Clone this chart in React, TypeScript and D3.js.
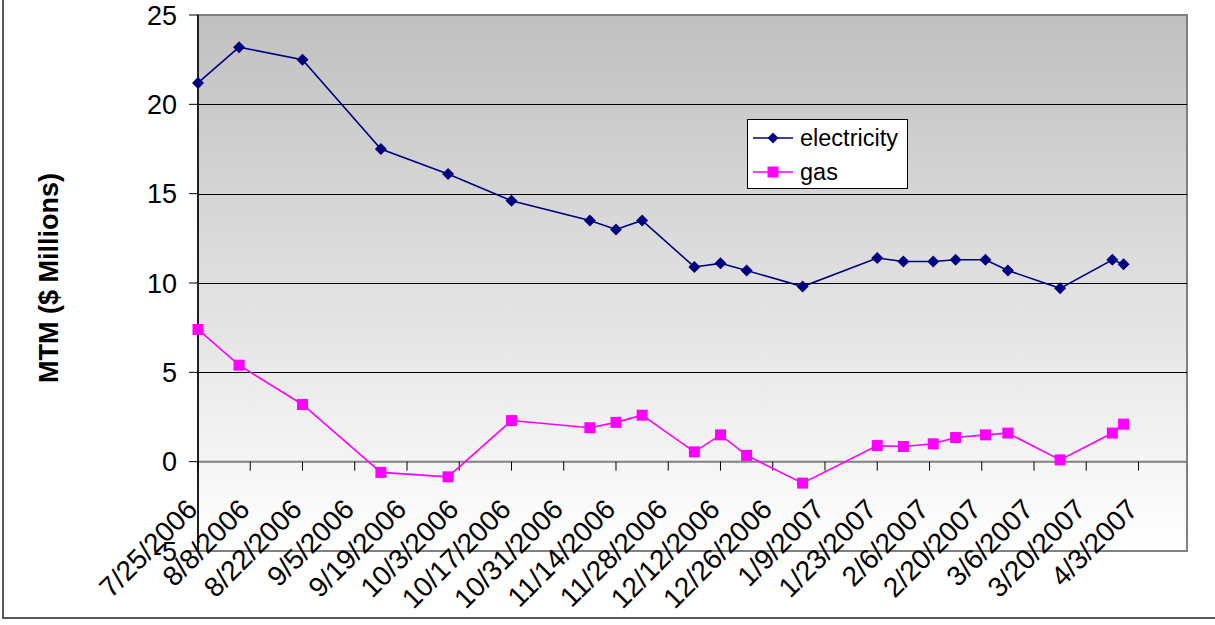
import * as d3 from 'd3';

const W = 1215;
const H = 625;
const PLOT = { left: 198, right: 1187, top: 15, bottom: 551 };
const FONT = '"Liberation Sans", Arial, sans-serif';

// observation dates (shared by both series)
const dates = [
    '2006-07-25', '2006-08-05', '2006-08-22', '2006-09-12', '2006-09-30', '2006-10-17',
    '2006-11-07', '2006-11-14', '2006-11-21', '2006-12-05', '2006-12-12', '2006-12-19',
    '2007-01-03', '2007-01-23', '2007-01-30', '2007-02-07', '2007-02-13', '2007-02-21',
    '2007-02-27', '2007-03-13', '2007-03-27', '2007-03-30',
];

const electricity = [
    21.2, 23.2, 22.5, 17.5, 16.1, 14.6,
    13.5, 13.0, 13.5, 10.9, 11.1, 10.7,
    9.8, 11.4, 11.2, 11.2, 11.3, 11.3,
    10.7, 9.7, 11.3, 11.05,
];

const gas = [
    7.4, 5.4, 3.2, -0.6, -0.85, 2.3,
    1.9, 2.2, 2.6, 0.55, 1.5, 0.35,
    -1.2, 0.9, 0.85, 1.0, 1.35, 1.5,
    1.6, 0.1, 1.6, 2.1,
];

const xTickLabels = [
    '7/25/2006', '8/8/2006', '8/22/2006', '9/5/2006', '9/19/2006', '10/3/2006',
    '10/17/2006', '10/31/2006', '11/14/2006', '11/28/2006', '12/12/2006', '12/26/2006',
    '1/9/2007', '1/23/2007', '2/6/2007', '2/20/2007', '3/6/2007', '3/20/2007', '4/3/2007',
];

const yTicks = [-5, 0, 5, 10, 15, 20, 25];
const gridValues = [5, 10, 15, 20];

const parseIso = d3.utcParse('%Y-%m-%d');
const parseLabel = d3.utcParse('%m/%d/%Y');

const App = () => {
    const xScale = d3
        .scaleUtc()
        .domain([parseIso('2006-07-25') as Date, parseIso('2007-04-16') as Date])
        .range([PLOT.left, PLOT.right]);

    const yScale = d3.scaleLinear().domain([-5, 25]).range([PLOT.bottom, PLOT.top]);

    const elecPts = dates.map((d, i) => ({ x: xScale(parseIso(d) as Date), y: yScale(electricity[i]) }));
    const gasPts = dates.map((d, i) => ({ x: xScale(parseIso(d) as Date), y: yScale(gas[i]) }));

    const line = d3
        .line<{ x: number; y: number }>()
        .x((p) => p.x)
        .y((p) => p.y);

    const diamond = (cx: number, cy: number, r = 6) =>
        `M${cx},${cy - r}L${cx + r},${cy}L${cx},${cy + r}L${cx - r},${cy}Z`;

    const y0 = yScale(0);

    return (
        <svg
            width={W}
            height={H}
            style={{ position: 'absolute', left: 0, top: 0, background: '#fff' }}
            fontFamily={FONT}
        >
            <defs>
                <linearGradient id="plotBg" x1="0" y1="0" x2="0" y2="1">
                    <stop offset="0" stopColor="#c0c0c0" />
                    <stop offset="1" stopColor="#ffffff" />
                </linearGradient>
            </defs>

            {/* outer chart frame */}
            <rect x={3} y={-5} width={1230} height={623} fill="none" stroke="#222" strokeWidth={1.5} />

            {/* plot area */}
            <rect
                x={PLOT.left}
                y={PLOT.top}
                width={PLOT.right - PLOT.left}
                height={PLOT.bottom - PLOT.top}
                fill="url(#plotBg)"
                stroke="#808080"
                strokeWidth={2}
            />

            {gridValues.map((v) => (
                <line
                    key={v}
                    x1={PLOT.left}
                    x2={PLOT.right}
                    y1={Math.round(yScale(v)) + 0.5}
                    y2={Math.round(yScale(v)) + 0.5}
                    stroke="#000"
                    strokeWidth={1}
                />
            ))}

            {/* x axis at zero */}
            <line x1={PLOT.left} x2={PLOT.right} y1={y0} y2={y0} stroke="#808080" strokeWidth={2} />
            {xTickLabels.map((t) => {
                const x = xScale(parseLabel(t) as Date);
                return (
                    <g key={t}>
                        <line x1={x} x2={x} y1={y0} y2={y0 + 9} stroke="#000" strokeWidth={1} />
                        <text
                            transform={`translate(${x + 1},${511}) rotate(-45)`}
                            textAnchor="end"
                            fontSize={28}
                            fill="#000"
                        >
                            {t}
                        </text>
                    </g>
                );
            })}

            {/* y axis */}
            <line x1={PLOT.left} x2={PLOT.left} y1={PLOT.top} y2={PLOT.bottom} stroke="#000" strokeWidth={1.5} />
            {yTicks.map((v) => (
                <g key={v}>
                    <line x1={PLOT.left - 9} x2={PLOT.left} y1={yScale(v)} y2={yScale(v)} stroke="#000" strokeWidth={1} />
                    <text x={177} y={yScale(v)} dy="0.36em" textAnchor="end" fontSize={27} fill="#000">
                        {v}
                    </text>
                </g>
            ))}

            <text
                transform={`translate(58,278) rotate(-90)`}
                textAnchor="middle"
                fontSize={27}
                fontWeight="bold"
                fill="#000"
            >
                MTM ($ Millions)
            </text>

            {/* series */}
            <path d={line(elecPts) ?? ''} fill="none" stroke="#000080" strokeWidth={1.6} />
            {elecPts.map((p, i) => (
                <path key={i} d={diamond(p.x, p.y)} fill="#000080" />
            ))}

            <path d={line(gasPts) ?? ''} fill="none" stroke="#ff00ff" strokeWidth={1.6} />
            {gasPts.map((p, i) => (
                <rect key={i} x={p.x - 5.5} y={p.y - 5.5} width={11} height={11} fill="#ff00ff" />
            ))}

            {/* legend */}
            <g>
                <rect x={747.5} y={119.5} width={160} height={69} fill="#fff" stroke="#000" strokeWidth={1} />
                <line x1={753} x2={793} y1={138} y2={138} stroke="#000080" strokeWidth={1.6} />
                <path d={diamond(773, 138, 5.5)} fill="#000080" />
                <text x={800} y={138} dy="0.36em" fontSize={23.5} fill="#000">
                    electricity
                </text>
                <line x1={753} x2={793} y1={172} y2={172} stroke="#ff00ff" strokeWidth={1.6} />
                <rect x={767.5} y={166.5} width={11} height={11} fill="#ff00ff" />
                <text x={800} y={172} dy="0.36em" fontSize={23.5} fill="#000">
                    gas
                </text>
            </g>
        </svg>
    );
};

export default App;
